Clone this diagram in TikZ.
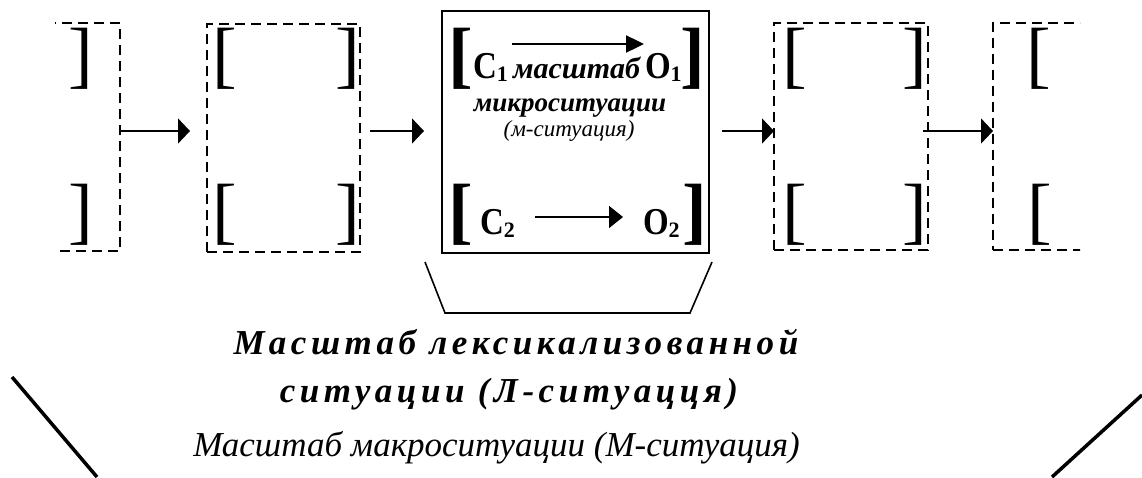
\documentclass[tikz,border=0pt]{standalone}
\usepackage{fontspec}
\setmainfont{Liberation Serif}
\newfontfamily\spacedfont[LetterSpace=13]{Liberation Serif}
\usetikzlibrary{arrows.meta}
\begin{document}
\begin{tikzpicture}[x=1pt,y=-1pt,
  every node/.style={inner sep=0pt, outer sep=0pt},
  dbox/.style={draw, dash pattern=on 10pt off 6pt, line width=2.2pt},
  brk/.style={font=\fontsize{74}{74}\selectfont},
  big/.style={font=\bfseries\fontsize{33}{33}\selectfont},
  arr/.style={line width=1.6pt, -{Triangle[length=12pt,width=25pt]}},
  lbl/.style={anchor=base}
]
\useasboundingbox (0,0) rectangle (1142,477);
% clipped partial boxes
\begin{scope}
  \clip (55,0) rectangle (1080,477);
  \node[dbox, minimum width=220pt, minimum height=228pt] (b1) at (10,137) {};
  \node[dbox, minimum width=207pt, minimum height=227pt] (b5) at (1096.5,136.5) {};
\end{scope}
\node[dbox, minimum width=153pt, minimum height=228pt] (b2) at (283.5,138) {};
\node[dbox, minimum width=154pt, minimum height=227pt] (b4) at (851,136.5) {};
% central box
\node[draw, line width=2.6pt, minimum width=267pt, minimum height=242pt] (m) at (575.5,132) {};
% brackets in dashed boxes
\node[brk] (b1t) at (81,59) {]};
\node[brk] (b1b) at (81,215) {]};
\node[brk] (b2tl) at (224.5,59) {[};
\node[brk] (b2tr) at (347.5,59) {]};
\node[brk] (b2bl) at (224.5,215) {[};
\node[brk] (b2br) at (347.5,215) {]};
\node[brk] (b4tl) at (794.5,59) {[};
\node[brk] (b4tr) at (914.5,59) {]};
\node[brk] (b4bl) at (794.5,215) {[};
\node[brk] (b4br) at (914.5,215) {]};
\node[brk] (b5t) at (1039,59) {[};
\node[brk] (b5b) at (1040,215) {[};
% connectors between boxes
\coordinate (ay) at (0,131);
\draw[arr, shorten >=17pt] (b1.east |- ay) -- (b2.west |- ay);
\draw[arr, shorten <=10pt, shorten >=18pt] (b2.east |- ay) -- (m.west |- ay);
\draw[arr, shorten <=13pt] (m.east |- ay) -- (b4.west |- ay);
\draw[arr, shorten <=-5pt] (b4.east |- ay) -- (b5.west |- ay);
% contents of central box
\node[brk, font=\bfseries\fontsize{74}{74}\selectfont] (mtl) at (461,59) {[};
\node[brk, font=\bfseries\fontsize{74}{74}\selectfont] (mtr) at (693,59) {]};
\node[big, anchor=base west] (c1) at (473,78) {\scalebox{1}[1.15]{C}\raisebox{-3pt}{\fontsize{22}{22}\selectfont 1}};
\node[anchor=base west, font=\bfseries\itshape\fontsize{30}{30}\selectfont] (msh) at (513,78) {масштаб};
\node[big, anchor=base west] (o1) at (645,78) {\scalebox{1}[1.15]{O}\raisebox{-3pt}{\fontsize{22}{22}\selectfont 1}};
\coordinate (a1s) at (512,44);
\coordinate (a1e) at (644,44);
\draw[line width=2.4pt, -{Triangle[length=18pt,width=17pt]}] (a1s) -- (a1e);
\node[lbl, font=\bfseries\itshape\fontsize{27}{27}\selectfont] (mik) at (570,111) {микроситуации};
\node[lbl, font=\itshape\fontsize{23}{23}\selectfont] (msit) at (569,136) {(м-ситуация)};
\node[brk, font=\bfseries\fontsize{74}{74}\selectfont] (mbl) at (461,215) {[};
\node[brk, font=\bfseries\fontsize{74}{74}\selectfont] (mbr) at (695,215) {]};
\node[big, anchor=base west] (c2) at (480,234) {\scalebox{1}[1.15]{C}\raisebox{-3pt}{\fontsize{22}{22}\selectfont 2}};
\node[big, anchor=base west] (o2) at (643,234) {\scalebox{1}[1.15]{O}\raisebox{-3pt}{\fontsize{22}{22}\selectfont 2}};
\coordinate (a2y) at (0,217);
\draw[line width=1.5pt, -{Triangle[length=14pt,width=22pt]}, shorten <=20pt, shorten >=20pt] (c2.east |- a2y) -- (o2.west |- a2y);
% trapezoid under the central box
\coordinate (t1) at (425,262);
\coordinate (t2) at (445,313);
\coordinate (t3) at (690,313);
\coordinate (t4) at (712,262);
\draw[line width=1.6pt] (t1) -- (t2) -- (t3) -- (t4);
% labels
\node[lbl, font=\spacedfont\bfseries\itshape\fontsize{35}{35}\selectfont] (l1) at (516,354) {Масштаб лексикализованной};
\node[lbl, font=\spacedfont\bfseries\itshape\fontsize{35}{35}\selectfont] (l2) at (509,402) {ситуации (Л-ситуацця)};
\node[lbl, font=\itshape\fontsize{35}{35}\selectfont] (l3) at (496.5,456) {Масштаб макроситуации (М-ситуация)};
% big diagonals
\coordinate (d1) at (12,377);
\coordinate (d2) at (97,477);
\coordinate (d3) at (1142,395);
\coordinate (d4) at (1052,477);
\draw[line width=3.5pt] (d1) -- (d2);
\draw[line width=3.5pt] (d3) -- (d4);
\end{tikzpicture}
\end{document}
